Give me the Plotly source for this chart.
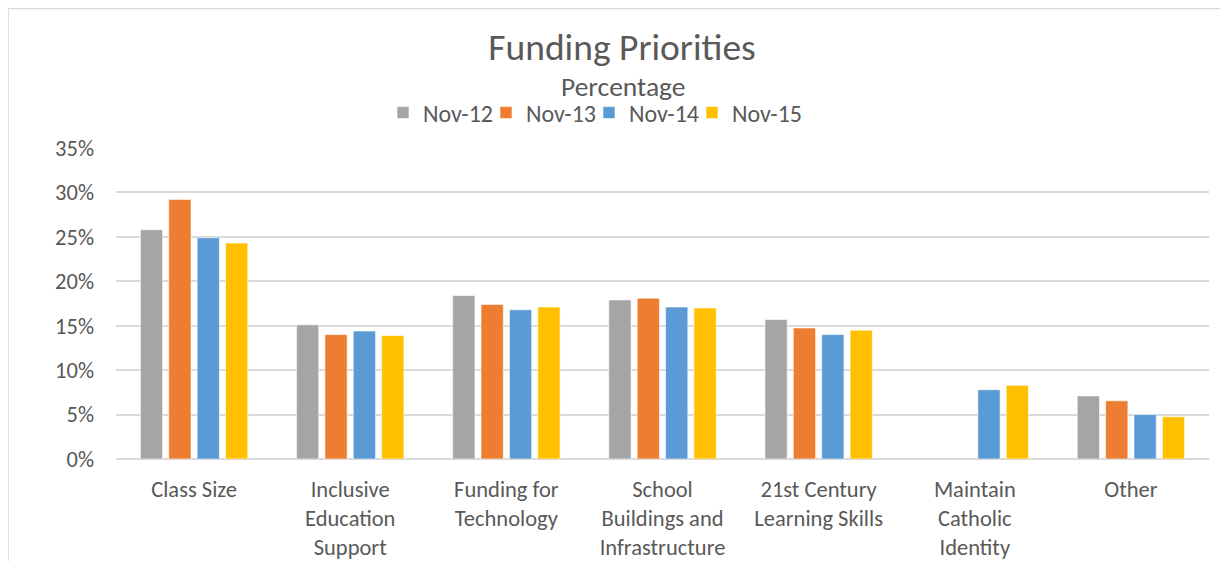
import plotly.graph_objects as go

categories = ["Class Size", "Inclusive<br>Education<br>Support", "Funding for<br>Technology",
              "School<br>Buildings and<br>Infrastructure", "21st Century<br>Learning Skills",
              "Maintain<br>Catholic<br>Identity", "Other"]
series_names = ["Nov-12", "Nov-13", "Nov-14", "Nov-15"]
nov12 = [25.8, 15.1, 18.4, 17.9, 15.7, None, 7.1]
nov13 = [29.2, 14.0, 17.4, 18.1, 14.75, None, 6.55]
nov14 = [24.9, 14.4, 16.8, 17.1, 14.0, 7.8, 5.0]
nov15 = [24.3, 13.9, 17.1, 17.0, 14.5, 8.3, 4.75]
colors = ["#A5A5A5", "#ED7D31", "#5B9BD5", "#FFC000"]
tick_vals = [0, 5, 10, 15, 20, 25, 30, 35]
tick_text = ["0%", "5%", "10%", "15%", "20%", "25%", "30%", "35%"]

FONT = "Carlito, Calibri, 'Liberation Sans Narrow', 'Open Sans', sans-serif"
TXT = "#595959"

fig = go.Figure()
series = [nov12, nov13, nov14, nov15]
for i, (name, vals, col) in enumerate(zip(series_names, series, colors)):
    fig.add_trace(go.Bar(x=categories, y=vals, name=name, marker_color=col,
                         marker_line=dict(color="white", width=0.6),
                         legendwidth=(58 if i < len(series) - 1 else 80)))

# page has an 8px body margin; figure coords = screen coords - 8
W, H = 1212, 553
l, t = 108.3, 140
r, b = W - 1200.7, H - 451
pw, ph = W - l - r, H - t - b

fig.update_layout(
    width=W, height=H,
    margin=dict(l=l, r=r, t=t, b=b, autoexpand=False),
    paper_bgcolor="white", plot_bgcolor="white",
    barmode="group", bargap=0.273, bargroupgap=0.215,
    font=dict(family=FONT, color=TXT),
    title=dict(text="Funding Priorities", font=dict(size=37.5, color=TXT, family=FONT),
               x=614 / W, xanchor="center", xref="container",
               y=1 - 39 / H, yanchor="middle", yref="container"),
    legend=dict(orientation="h", xref="container", yref="container",
                x=375 / W, xanchor="left", y=1 - 105 / H, yanchor="middle",
                font=dict(size=24, color=TXT, family=FONT),
                itemwidth=30, tracegroupgap=0, bgcolor="rgba(0,0,0,0)"),
    showlegend=True,
)
fig.add_annotation(text="Percentage", xref="paper", yref="paper",
                   x=(615 - l) / pw, y=1 + (t - 79) / ph, xanchor="center", yanchor="middle",
                   showarrow=False, font=dict(size=27.5, color=TXT, family=FONT))
fig.update_yaxes(range=[0, 35], tickvals=tick_vals, ticktext=tick_text, automargin=False,
                 showgrid=True, gridcolor="#D9D9D9", gridwidth=1.5,
                 zeroline=True, zerolinecolor="#D9D9D9", zerolinewidth=1.5,
                 showline=False, ticklabelstandoff=21,
                 tickfont=dict(size=22.5, color=TXT, family=FONT))
fig.update_xaxes(showgrid=False, showline=False, automargin=False,
                 tickfont=dict(size=22.5, color=TXT, family=FONT),
                 ticklabelstandoff=14)
# chart frame (partially cropped in reference)
fig.add_shape(type="rect", xref="paper", yref="paper",
              x0=(0.6 - l) / pw, x1=(W + 20 - l) / pw,
              y0=-(b + 20) / ph, y1=1 + (t - 0.6) / ph,
              line=dict(color="#D9D9D9", width=1.2), fillcolor="rgba(0,0,0,0)", layer="below")

fig.write_html("out.html")
